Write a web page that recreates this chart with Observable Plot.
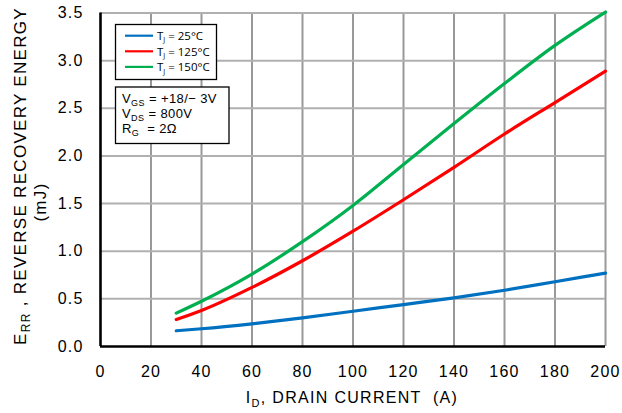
<!DOCTYPE html>
<html>
<head>
<meta charset="utf-8">
<script src="https://cdn.jsdelivr.net/npm/d3@7"></script>
<script src="https://cdn.jsdelivr.net/npm/@observablehq/plot@0.6"></script>
<style>
  html, body { margin: 0; padding: 0; background: #fff; }
  #chart svg { display: block; }
</style>
</head>
<body>
<div id="chart"></div>
<script>
// ---- data ----
const current = [30, 40, 60, 80, 100, 120, 140, 160, 180, 200];
const eTj25  = [0.165, 0.186, 0.238, 0.30, 0.37, 0.44, 0.51, 0.59, 0.68, 0.77];
const eTj125 = [0.283, 0.378, 0.62, 0.90, 1.21, 1.54, 1.88, 2.23, 2.56, 2.89];
const eTj150 = [0.35, 0.475, 0.76, 1.10, 1.48, 1.91, 2.34, 2.76, 3.16, 3.51];
const seriesNames = ["25°C", "125°C", "150°C"];
const seriesColors = ["#0070C0", "#FF0000", "#00B050"];
const xTicks = [0, 20, 40, 60, 80, 100, 120, 140, 160, 180, 200];
const yTicks = [0, 0.5, 1.0, 1.5, 2.0, 2.5, 3.0, 3.5];
const conditions = [
  ["V", "GS", " = +18/\u2212 3V"],
  ["V", "DS", " = 800V"],
  ["R", "G", "  = 2\u03A9"]
];

const allSeries = [eTj25, eTj125, eTj150];
const rows = [];
allSeries.forEach((vals, s) => vals.forEach((v, i) => rows.push({id: current[i], e: v, s: seriesNames[s]})));

const font = "'Liberation Sans', Arial, Helvetica, sans-serif";

const plot = Plot.plot({
  width: 622,
  height: 413,
  marginLeft: 100,
  marginRight: 17,
  marginTop: 12.5,
  marginBottom: 67,
  style: {fontFamily: font, fontSize: "16px", color: "#000", letterSpacing: "1.2px", background: "#fff"},
  x: {domain: [0, 200]},
  y: {domain: [0, 3.5]},
  color: {domain: seriesNames, range: seriesColors},
  marks: [
    Plot.ruleX(xTicks.slice(1), {stroke: "#999999", strokeWidth: 2, strokeOpacity: 1}),
    Plot.ruleY(yTicks.slice(1), {stroke: "#b0b0b0", strokeWidth: 2, strokeOpacity: 1}),
    Plot.axisX({ticks: xTicks, tickSize: 0, tickPadding: 19, label: null, fontSize: 16}),
    Plot.axisY({ticks: yTicks, tickSize: 0, tickPadding: 17, label: null, fontSize: 16, tickFormat: d => d.toFixed(1)}),
    Plot.line(rows, {x: "id", y: "e", z: "s", stroke: "s", strokeWidth: 3.2, curve: "monotone-x", clip: false}),
    Plot.ruleX([0], {stroke: "#000", strokeWidth: 2.6}),
    Plot.ruleY([0], {stroke: "#000", strokeWidth: 2.6})
  ]
});
document.getElementById("chart").appendChild(plot);

const svg = d3.select(plot);

// X axis label
const xl = svg.append("text")
  .attr("x", 352).attr("y", 403)
  .attr("text-anchor", "middle")
  .style("font-family", font).style("font-size", "16px").style("letter-spacing", "1.3px");
xl.append("tspan").text("I");
xl.append("tspan").attr("dy", 4).style("font-size", "11px").text("D");
xl.append("tspan").attr("dy", -4).text(", DRAIN CURRENT  (A)");

// Y axis label (two lines, rotated)
const yl = svg.append("text")
  .attr("transform", "translate(26,176) rotate(-90)")
  .attr("text-anchor", "middle")
  .style("font-family", font).style("font-size", "17px").style("letter-spacing", "1.3px");
yl.append("tspan").text("E");
yl.append("tspan").attr("dy", 4).style("font-size", "12px").text("RR");
yl.append("tspan").attr("dy", -4).text(" , REVERSE RECOVERY ENERGY");
svg.append("text")
  .attr("transform", "translate(46,202) rotate(-90)")
  .attr("text-anchor", "middle")
  .style("font-family", font).style("font-size", "17px").style("letter-spacing", "1.3px")
  .text("(mJ)");

// Legend box
const lg = svg.append("g").attr("text-anchor", "start");
lg.append("rect").attr("x", 115.5).attr("y", 24.5).attr("width", 101).attr("height", 55)
  .attr("fill", "#fff").attr("stroke", "#000").attr("stroke-width", 1.3);
seriesNames.forEach((n, i) => {
  const yy = 35.7 + i * 15.6;
  lg.append("line").attr("x1", 125).attr("x2", 153).attr("y1", yy).attr("y2", yy)
    .attr("stroke", seriesColors[i]).attr("stroke-width", 2.2);
  const t = lg.append("text").attr("x", 157).attr("y", yy + 4.2).attr("text-anchor", "start")
    .style("font-family", "'Open Sans', 'Liberation Sans', sans-serif").style("font-size", "11.5px")
    .style("letter-spacing", "0px");
  t.append("tspan").text("T");
  t.append("tspan").attr("dy", 2.5).style("font-size", "7px").text("J");
  t.append("tspan").attr("dy", -2.5).text(" = " + n);
});

// Conditions box
const cb = svg.append("g").attr("text-anchor", "start");
cb.append("rect").attr("x", 115.5).attr("y", 87).attr("width", 113.5).attr("height", 56.5)
  .attr("fill", "#fff").attr("stroke", "#000").attr("stroke-width", 1.3);
conditions.forEach((c, i) => {
  const t = cb.append("text").attr("x", 122).attr("y", 103.3 + i * 15).attr("text-anchor", "start")
    .style("font-family", font).style("font-size", "13px").style("letter-spacing", "0.4px");
  t.append("tspan").text(c[0]);
  t.append("tspan").attr("dy", 2.5).style("font-size", "9px").text(c[1]);
  t.append("tspan").attr("dy", -2.5).style("white-space", "pre").text(c[2]);
});
</script>
</body>
</html>
